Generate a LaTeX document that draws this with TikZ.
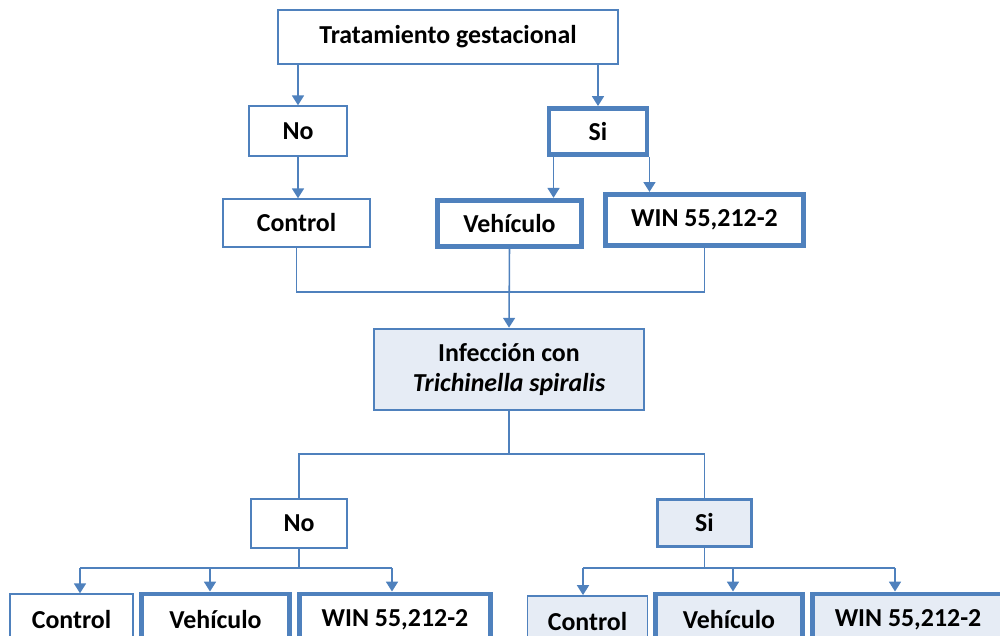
\documentclass[tikz,border=0pt]{standalone}
\usepackage{fontspec}
\setmainfont{Carlito}
\usepackage{xcolor}
\usetikzlibrary{arrows.meta, positioning, calc}
\definecolor{boxblue}{HTML}{4F81BD}
\definecolor{boxfill}{HTML}{E6ECF5}
\tikzset{
	box/.style={draw=boxblue, line width=1pt, fill=white, inner sep=0pt, align=center, font=\bfseries\fontsize{18.4}{21}\selectfont},
	thickbox/.style={box, line width=3.5pt},
	shadedbox/.style={box, fill=boxfill},
	conn/.style={draw=boxblue, line width=1.1pt},
	arr/.style={conn, -{Triangle[width=8.5pt, length=7pt]}}
}

\begin{document}
\begin{tikzpicture}[x=0.025cm, y=-0.025cm]
	\useasboundingbox (0,0) rectangle (1000,636);
	\clip (0,0) rectangle (1000,636);
	% first stage
	\node[box, minimum width=8.5cm, minimum height=1.35cm] (trat) at (448,37) {Tratamiento gestacional};
	\node[box, minimum width=2.45cm, minimum height=1.25cm] (no1) at (298,131) {No};
	\node[thickbox, minimum width=2.45cm, minimum height=1.15cm] (si1) at (598,131.5) {Si};
	\node[box, minimum width=3.675cm, minimum height=1.2cm] (ctl1) at (296.5,223) {Control};
	\node[thickbox, minimum width=3.6cm, minimum height=1.16cm] (veh1) at (509.5,223.5) {Vehículo};
	\node[thickbox, minimum width=4.96cm, minimum height=1.28cm] (win1) at (704.5,220) {WIN 55,212-2};
	\draw[arr] (trat.south -| no1.north) -- (no1.north);
	\draw[arr] (trat.south -| si1.north) -- (si1.north);
	\draw[arr] (no1.south) -- (no1.south |- ctl1.north);
	\coordinate (siL) at ($(si1.south west)+(7,0)$);
	\draw[arr] (siL) -- (siL |- veh1.north);
	\draw[arr] (si1.south east) -- (si1.south east |- win1.north);
	% infection
	\node[shadedbox, line width=2pt, minimum width=6.75cm, minimum height=2.02cm] (inf) at (509,369.5) {Infección con\\{\itshape Trichinella\ spiralis}};
	\coordinate (m1) at (509.5,292);
	\draw[conn] (ctl1.south) |- (m1) -| (win1.south);
	\draw[arr] (veh1.south) -- (inf.north);
	% second stage
	\node[box, minimum width=2.4cm, minimum height=1.22cm] (no2) at (299,523.5) {No};
	\node[shadedbox, line width=2.3pt, minimum width=2.36cm, minimum height=1.19cm] (si2) at (704.5,523) {Si};
	\coordinate (m2) at (509,454);
	\draw[conn] (inf.south) -- (m2);
	\draw[conn] (no2.north) |- (m2) -| (si2.north);
	% groups
	\node[box, minimum width=3.075cm, minimum height=1.3cm] (ctlA) at (71.5,620) {Control};
	\node[thickbox, minimum width=3.7cm, minimum height=1.3cm] (vehA) at (215.5,620) {Vehículo};
	\node[thickbox, minimum width=4.78cm, minimum height=1.3cm] (winA) at (395,620) {WIN 55,212-2};
	\node[shadedbox, line width=1.3pt, minimum width=3.0cm, minimum height=1.3cm] (ctlB) at (587.5,622) {Control};
	\node[shadedbox, line width=3.5pt, minimum width=3.68cm, minimum height=1.3cm] (vehB) at (729,620) {Vehículo};
	\node[shadedbox, line width=3.5pt, minimum width=4.78cm, minimum height=1.3cm] (winB) at (908,620) {WIN 55,212-2};
	\coordinate (bA) at (80,568);
	\coordinate (bB) at (210,568);
	\coordinate (bC) at (392,568);
	\coordinate (bD) at (583,568);
	\coordinate (bE) at (733,568);
	\coordinate (bF) at (895,568);
	\draw[conn] (no2.south) -- (no2.south |- bA);
	\draw[conn] (bA) -- (bC);
	\draw[conn] (si2.south) -- (si2.south |- bD);
	\draw[conn] (bD) -- (bF);
	\draw[arr] (bA) -- (bA |- ctlA.north);
	\draw[arr] (bB) -- (bB |- vehA.north);
	\draw[arr] (bC) -- (bC |- winA.north);
	\draw[arr] (bD) -- (bD |- ctlB.north);
	\draw[arr] (bE) -- (bE |- vehB.north);
	\draw[arr] (bF) -- (bF |- winB.north);
\end{tikzpicture}
\end{document}
